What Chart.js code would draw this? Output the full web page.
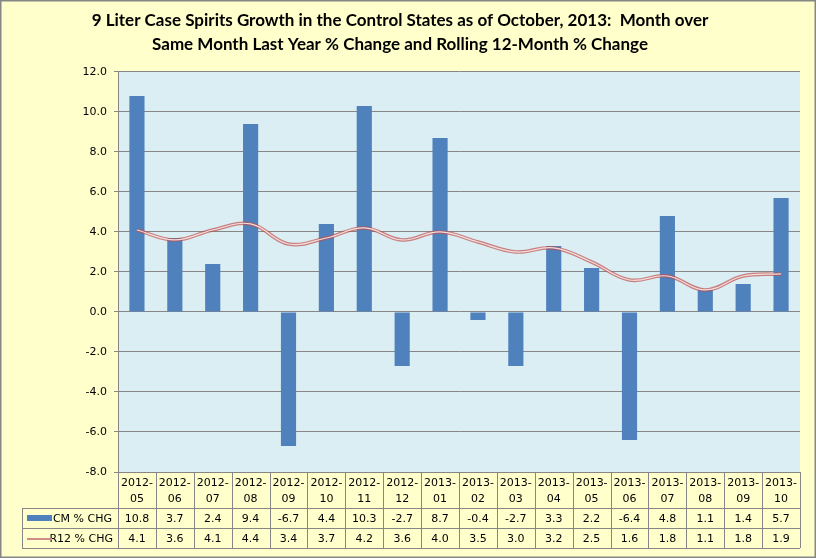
<!DOCTYPE html>
<html><head><meta charset="utf-8">
<script src="https://cdn.jsdelivr.net/npm/chart.js@4.4.1/dist/chart.umd.min.js"></script>
<style>html,body{margin:0;padding:0;background:#FFFFCC;}canvas{display:block;}</style>
</head><body>
<canvas id="c" width="816" height="558"></canvas>
<script>
// ---- data ----
const categories = ['2012-05','2012-06','2012-07','2012-08','2012-09','2012-10','2012-11','2012-12','2013-01','2013-02','2013-03','2013-04','2013-05','2013-06','2013-07','2013-08','2013-09','2013-10'];
const cmChg  = [10.8, 3.7, 2.4, 9.4, -6.7, 4.4, 10.3, -2.7, 8.7, -0.4, -2.7, 3.3, 2.2, -6.4, 4.8, 1.1, 1.4, 5.7];
const r12Chg = [4.1, 3.6, 4.1, 4.4, 3.4, 3.7, 4.2, 3.6, 4.0, 3.5, 3.0, 3.2, 2.5, 1.6, 1.8, 1.1, 1.8, 1.9];
const seriesNames = ['CM % CHG', 'R12 % CHG'];
const yMin = -8, yMax = 12, yStep = 2;
const titleLines = ['9 Liter Case Spirits Growth in the Control States as of October, 2013:  Month over',
                    'Same Month Last Year % Change and Rolling 12-Month % Change'];

// ---- styles ----
const BAR = '#4F81BD', LINE_OUT = 'rgba(192,80,77,0.7)', LINE_IN = '#F4DEDD';
const GRID = '#868686', BG = '#FFFFCC', PLOT = '#DBEEF4';
const FONT = '"DejaVu Sans", Verdana, sans-serif';

const tablePlugin = {
  id: 'dataTable',
  beforeDraw(chart) {
    const {ctx, chartArea: a, width, height} = chart;
    ctx.save();
    ctx.fillStyle = BG; ctx.fillRect(0, 0, width, height);
    ctx.fillStyle = PLOT; ctx.fillRect(a.left, a.top, a.right - a.left, a.bottom - a.top);
    ctx.restore();
  },
  afterDraw(chart) {
    const {ctx, chartArea: a, width, height} = chart;
    const xs = chart.scales.x;
    const top = a.bottom, hdrH = 36, rowH = 20, legLeft = 22;
    const y1 = top + hdrH, y2 = y1 + rowH, y3 = y2 + rowH;
    ctx.save();
    ctx.strokeStyle = GRID; ctx.lineWidth = 1;
    const line = (x0, ya, x1, yb) => { ctx.beginPath(); ctx.moveTo(x0, ya); ctx.lineTo(x1, yb); ctx.stroke(); };
    const px = v => Math.round(v) + 0.5;
    line(legLeft, px(y1), a.right, px(y1));
    line(legLeft, px(y2), a.right, px(y2));
    line(legLeft, px(y3), a.right, px(y3));
    line(px(legLeft), y1, px(legLeft), y3);
    const bounds = [a.left];
    for (let i = 1; i < categories.length; i++) bounds.push(xs.getPixelForValue(i - 0.5));
    bounds.push(a.right);
    bounds.forEach(b => line(px(b), top, px(b), y3));
    ctx.fillStyle = '#000'; ctx.font = '11px ' + FONT; ctx.textBaseline = 'middle'; ctx.textAlign = 'center';
    categories.forEach((c, i) => {
      const cx = xs.getPixelForValue(i);
      const parts = c.split('-');
      ctx.fillText(parts[0] + '-', cx, top + 11);
      ctx.fillText(parts[1], cx, top + 27);
      ctx.fillText(cmChg[i].toFixed(1), cx, y1 + rowH / 2 + 1);
      ctx.fillText(r12Chg[i].toFixed(1), cx, y2 + rowH / 2 + 1);
    });
    ctx.textAlign = 'right';
    ctx.fillText(seriesNames[0], a.left - 6, y1 + rowH / 2 + 1);
    ctx.fillText(seriesNames[1], a.left - 5, y2 + rowH / 2 + 1);
    ctx.fillStyle = BAR; ctx.fillRect(27, y1 + rowH / 2 - 3, 25, 6);
    ctx.strokeStyle = '#D08C8A'; ctx.lineWidth = 2;
    line(27, y2 + rowH / 2 + 1, 52, y2 + rowH / 2 + 1);
    ctx.strokeStyle = GRID; ctx.lineWidth = 1.5;
    ctx.strokeRect(0.75, 0.75, width - 1.5, height - 1.5);
    ctx.restore();
  }
};

new Chart(document.getElementById('c'), {
  data: {
    labels: categories,
    datasets: [
      { type: 'line', label: seriesNames[1], data: r12Chg, borderColor: LINE_OUT, borderWidth: 3.6, pointRadius: 0, tension: 0.4, order: 1 },
      { type: 'line', label: seriesNames[1] + ' inner', data: r12Chg, borderColor: LINE_IN, borderWidth: 1.2, pointRadius: 0, tension: 0.4, order: 0 },
      { type: 'bar', label: seriesNames[0], data: cmChg, backgroundColor: BAR, barPercentage: 0.4, categoryPercentage: 1, order: 2 }
    ]
  },
  options: {
    responsive: false, animation: false, devicePixelRatio: 1,
    layout: { padding: { left: 0, right: 16, top: 0, bottom: 86 } },
    plugins: {
      legend: { display: false },
      tooltip: { enabled: false },
      title: { display: true, text: titleLines, color: '#000',
               font: { family: 'Lato, "Open Sans", sans-serif', size: 17, weight: 'bold', lineHeight: 1.41 },
               padding: { top: 9, bottom: 15 } }
    },
    scales: {
      x: { display: false, offset: true },
      y: {
        min: yMin, max: yMax,
        afterFit(s) { s.width = 118; },
        ticks: { stepSize: yStep, padding: 7, color: '#000', font: { family: FONT, size: 11 },
                 callback: v => Number(v).toFixed(1) },
        grid: { color: GRID, lineWidth: 1, tickLength: 4, drawTicks: true },
        border: { display: true, color: GRID }
      }
    }
  },
  plugins: [tablePlugin]
});
</script>
</body></html>
